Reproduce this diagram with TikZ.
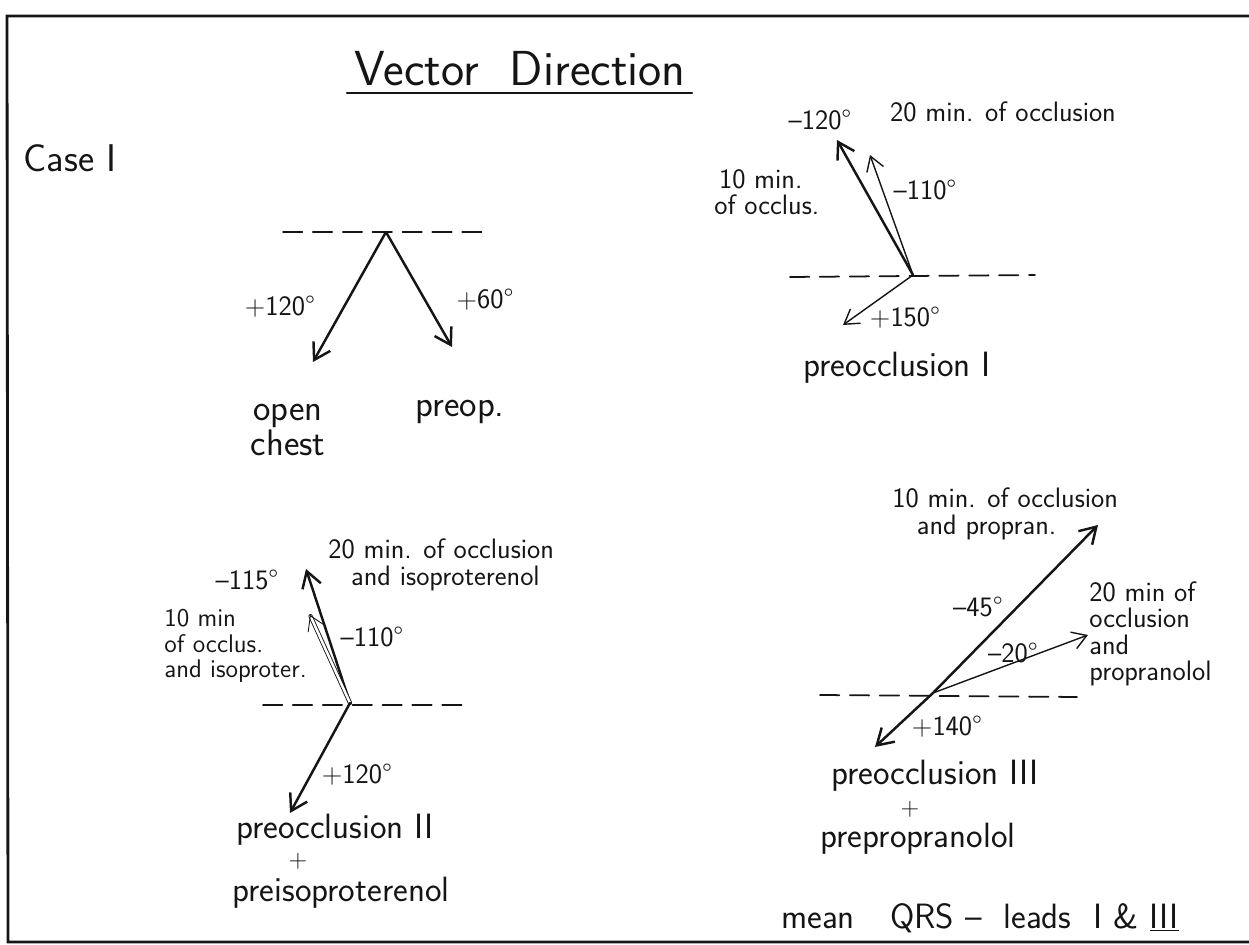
\documentclass[tikz,border=0pt]{standalone}
\usepackage{fontspec}
\usepackage{tikz}
\usetikzlibrary{arrows.meta}
\definecolor{inkblack}{HTML}{151515}

\tikzset{
  vec/.style={-{Straight Barb[length=9pt,width=11pt]}, line width=1.4pt, inkblack},
  thinvec/.style={-{Straight Barb[length=8pt,width=10pt]}, line width=0.8pt, inkblack},
  dblvec/.style={-{Straight Barb[length=8pt,width=10pt]}, line width=0.5pt, double, double distance=1.4pt, inkblack},
  axisline/.style={line width=1pt, dash pattern=on 11pt off 6pt, inkblack},
  lbl/.style={font=\sffamily\fontsize{16}{15}\selectfont, inner sep=0pt, text=inkblack},
  note/.style={font=\sffamily\fontsize{20}{20}\selectfont, inner sep=0pt, text=inkblack},
  plus/.style={font=\sffamily\fontsize{14}{14}\selectfont, inner sep=0pt, text=inkblack},
}

\begin{document}
\begin{tikzpicture}[
  x=0.02cm, y=-0.02cm,
  line cap=round,
]
\useasboundingbox (0,0) rectangle (1249,945);
% ---------- frame and heading ----------
\draw[line width=1.6pt, inkblack] (1249,16) -- (7,16) -- (8,942) -- (1249,942);
\node[font=\sffamily\fontsize{28}{30}\selectfont, text=inkblack] (title) at (520,69) {Vector\ \ Direction};
\draw[line width=1.2pt, inkblack] (347,93) -- (692,93);
\node[font=\sffamily\fontsize{22}{24}\selectfont, text=inkblack] (case) at (70,158) {Case I};

% ---------- Case I: open chest / preop. ----------
\coordinate (oA) at (386,232);
\coordinate (tipOpen) at (313,362);
\coordinate (tipPreop) at (452,347);
\draw[axisline] (283,232) -- (488,232);
\draw[vec] (oA) -- (tipOpen);
\draw[vec] (oA) -- (tipPreop);
\node[lbl] (angOpen) at (280,307) {+120°};
\node[lbl] (angPreop) at (485,300) {+60°};
\node[note, align=center, font=\sffamily\fontsize{21}{20}\selectfont] (open) at (288,430) {open\\chest};
\node[note, font=\sffamily\fontsize{21}{20}\selectfont] (preop) at (460,412) {preop.};

% ---------- preocclusion I ----------
\coordinate (oB) at (913,275);
\coordinate (tipTwenty) at (837,140);
\coordinate (tipTen) at (870,155);
\coordinate (tipPreB) at (843,325);
\draw[axisline] (790,277) -- (1035,275);
\draw[vec] (oB) -- (tipTwenty);
\draw[thinvec] (oB) -- (tipTen);
\draw[thinvec] (oB) -- (tipPreB);
\node[lbl] (angTwentyB) at (820,120) {–120°};
\node[lbl] (twentyB) at (1003,112) {20 min. of occlusion};
\node[lbl, align=left, anchor=west] (tenB) at (714,192) {\,10 min.\\of occlus.};
\node[lbl] (angTenB) at (925,190) {–110°};
\node[lbl] (angPreB) at (905,318) {+150°};
\node[note] (preB) at (897,368) {preocclusion I};

% ---------- preocclusion II + preisoproterenol ----------
\coordinate (oC) at (350,703);
\coordinate (tipIsoTwenty) at (306,569);
\coordinate (tipIsoTen) at (310,615);
\coordinate (tipPreC) at (290,813);
\draw[axisline] (263,705) -- (470,705);
\draw[vec] (oC) -- (tipIsoTwenty);
\draw[dblvec] (oC) -- (tipIsoTen);
\draw[vec] (oC) -- (tipPreC);
\node[lbl] (angIsoTwenty) at (247,580) {–115°};
\node[lbl, align=left, anchor=west] (isoTwenty) at (328,565) {20 min. of occlusion\\\hspace*{13pt}and isoproterenol};
\node[lbl, align=left, anchor=west, font=\sffamily\fontsize{14.5}{14.5}\selectfont] (isoTen) at (164,646) {10 min\\of occlus.\\and isoproter.};
\node[lbl] (angIsoTen) at (372,637) {–110°};
\node[lbl] (angPreC) at (357,775) {+120°};
\node[note] (preC) at (335,830) {preocclusion II};
\node[plus] (plusC) at (298,861) {+};
\node[note] (isoC) at (341,893) {preisoproterenol};

% ---------- preocclusion III + prepropranolol ----------
\coordinate (oD) at (933,693);
\coordinate (tipPropTen) at (1098,525);
\coordinate (tipPropTwenty) at (1088,635);
\coordinate (tipPreD) at (875,747);
\draw[axisline] (820,695) -- (1077,697);
\draw[vec] (oD) -- (tipPropTen);
\draw[thinvec] (oD) -- (tipPropTwenty);
\draw[vec] (oD) -- (tipPreD);
\node[lbl, align=left, anchor=west] (propTen) at (892,514) {10 min. of occlusion\\\hspace*{14pt}and propran.};
\node[lbl] (angPropTen) at (978,607) {–45°};
\node[lbl] (angPropTwenty) at (1013,653) {–20°};
\node[lbl, align=left, anchor=west] (propTwenty) at (1089,634) {20 min of\\occlusion\\and\\propranolol};
\node[lbl] (angPreD) at (947,727) {+140°};
\node[note] (preD) at (935,776) {preocclusion III};
\node[plus] (plusD) at (910,809) {+};
\node[note] (propD) at (918,839) {prepropranolol};

% ---------- footnote ----------
\node[note] (leads) at (980,918) {mean\quad QRS\ --\ \ leads\ \ I\ \&\ \underline{III}};
\end{tikzpicture}
\end{document}
